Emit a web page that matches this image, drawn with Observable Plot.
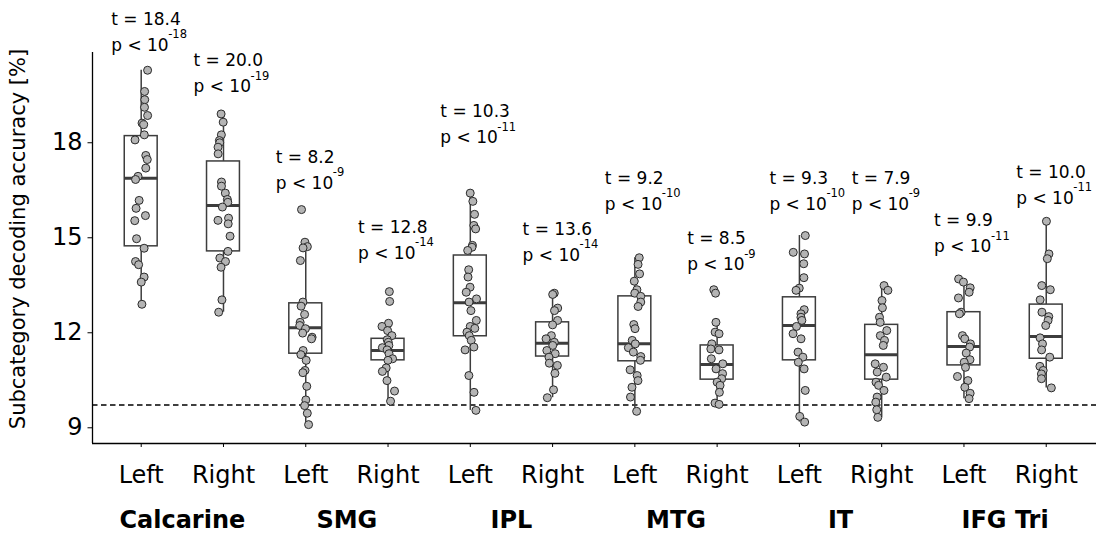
<!DOCTYPE html>
<html>
<head>
<meta charset="utf-8">
<script src="https://cdn.jsdelivr.net/npm/d3@7"></script>
<script src="https://cdn.jsdelivr.net/npm/@observablehq/plot@0.6"></script>
<style>
  html, body { margin: 0; padding: 0; background: #fff; }
  #chart svg { display: block; }
</style>
</head>
<body>
<div id="chart"></div>
<script>
// ---------- data ----------
const regions = ["Calcarine", "SMG", "IPL", "MTG", "IT", "IFG Tri"];
const hemispheres = ["Left", "Right"];
const tValues = [18.4, 20.0, 8.2, 12.8, 10.3, 13.6, 9.2, 8.5, 9.3, 7.9, 9.9, 10.0];
const pExponents = ["-18", "-19", "-9", "-14", "-11", "-14", "-10", "-9", "-10", "-9", "-11", "-11"];
const annotationY = [20.91, 19.59, 16.55, 14.34, 17.98, 14.28, 15.89, 13.97, 15.89, 15.89, 14.54, 16.08];
const chanceLevel = 9.72;

// box statistics per group (Calcarine L, Calcarine R, SMG L, SMG R, ...)
const q1 = [14.73, 14.57, 11.34, 11.13, 11.89, 11.25, 11.10, 10.52, 11.13, 10.52, 10.97, 11.18];
const median = [16.88, 16.02, 12.16, 11.44, 12.95, 11.67, 11.65, 11.00, 12.23, 11.31, 11.57, 11.88];
const q3 = [18.21, 17.41, 12.93, 11.81, 14.44, 12.33, 13.15, 11.60, 13.12, 12.25, 12.65, 12.89];
const whiskerLow = [12.90, 12.65, 9.10, 9.84, 9.55, 9.95, 9.52, 9.74, 9.18, 9.33, 9.92, 10.26];
const whiskerHigh = [20.29, 18.91, 14.86, 12.30, 16.41, 13.25, 14.37, 12.33, 15.07, 13.49, 13.70, 15.52];

// individual subjects
const calcarineLeft = [20.29, 19.62, 19.36, 19.12, 18.86, 18.62, 18.57, 18.25, 18.09, 17.60, 17.47, 17.20, 16.94, 16.84, 16.18, 15.93, 15.70, 15.54, 14.97, 14.67, 14.25, 14.15, 13.76, 13.60, 12.90];
const calcarineRight = [18.91, 18.65, 18.25, 18.07, 18.00, 17.86, 17.65, 16.76, 16.63, 16.41, 16.21, 16.12, 15.97, 15.62, 15.55, 15.44, 15.05, 14.57, 14.36, 14.25, 14.07, 13.04, 12.65];
const smgLeft = [15.89, 14.86, 14.72, 14.68, 14.28, 12.97, 12.84, 12.58, 12.33, 12.23, 12.13, 11.99, 11.86, 11.81, 11.44, 11.31, 11.13, 10.81, 10.74, 10.31, 9.88, 9.70, 9.46, 9.10];
const smgRight = [13.30, 12.99, 12.30, 12.20, 12.07, 11.91, 11.78, 11.70, 11.60, 11.53, 11.46, 11.34, 11.18, 11.13, 10.89, 10.78, 10.49, 10.16, 9.84];
const iplLeft = [16.41, 16.15, 15.74, 15.39, 15.28, 14.76, 14.70, 14.60, 13.99, 13.76, 13.44, 13.28, 13.07, 12.97, 12.70, 12.39, 12.20, 12.14, 12.02, 11.91, 11.76, 11.55, 11.46, 10.65, 10.12, 9.55];
const iplRight = [13.25, 13.21, 12.78, 12.70, 12.39, 12.25, 11.91, 11.81, 11.70, 11.60, 11.44, 11.34, 11.23, 11.04, 10.97, 10.72, 10.20, 9.95];
const mtgLeft = [14.37, 14.16, 13.86, 13.63, 13.36, 13.25, 13.15, 12.97, 12.83, 12.26, 12.13, 11.76, 11.65, 11.53, 11.39, 11.25, 11.13, 10.83, 10.65, 10.49, 10.28, 9.97, 9.52];
const mtgRight = [13.36, 13.25, 12.33, 12.02, 11.97, 11.65, 11.49, 11.46, 11.18, 11.02, 10.86, 10.71, 10.55, 10.44, 10.34, 10.12, 9.78, 9.74];
const itLeft = [15.07, 14.54, 14.49, 14.18, 13.74, 13.41, 13.34, 12.73, 12.60, 12.49, 12.39, 12.20, 11.97, 11.81, 11.39, 11.23, 11.07, 10.86, 10.18, 9.36, 9.18];
const itRight = [13.49, 13.34, 13.02, 12.79, 12.49, 12.33, 12.07, 11.91, 11.76, 11.60, 11.02, 10.91, 10.76, 10.60, 10.44, 10.34, 10.18, 9.97, 9.81, 9.57, 9.33];
const ifgLeft = [13.70, 13.60, 13.42, 13.28, 13.10, 12.65, 12.60, 11.91, 11.81, 11.65, 11.55, 11.36, 11.15, 11.07, 10.91, 10.62, 10.49, 10.28, 10.09, 9.92];
const ifgRight = [15.52, 14.49, 14.34, 13.49, 13.36, 13.04, 12.65, 12.51, 12.39, 12.23, 11.84, 11.65, 11.46, 11.23, 10.94, 10.81, 10.70, 10.55, 10.26];

const subjectValues = [calcarineLeft, calcarineRight, smgLeft, smgRight, iplLeft, iplRight,
                       mtgLeft, mtgRight, itLeft, itRight, ifgLeft, ifgRight];

// ---------- build tables ----------
const groups = d3.range(12).map(i => ({
  i,
  q1: q1[i], med: median[i], q3: q3[i], lo: whiskerLow[i], hi: whiskerHigh[i],
  t: tValues[i], exp: pExponents[i], ay: annotationY[i]
}));

const rng = d3.randomLcg(0.31);
const points = [];
subjectValues.forEach((vals, i) => {
  vals.forEach(v => points.push({ i, v, j: (rng() - 0.5) * 0.16 }));
});

const halfBox = 0.2;
const xDomain = [-0.592, 11.611];
const yDomain = [8.504, 20.85];
const boxStroke = "#3d3d3d";

const chart = Plot.plot({
  width: 1096,
  height: 533,
  marginLeft: 92,
  marginRight: 0,
  marginTop: 52,
  marginBottom: 90,
  style: { fontFamily: "'DejaVu Sans', sans-serif", background: "#fff", color: "#000", overflow: "visible" },
  x: { domain: xDomain },
  y: { domain: yDomain },
  marks: [
    Plot.ruleY([chanceLevel], { stroke: "#000", strokeWidth: 1.3, strokeDasharray: "5.5,3.5" }),
    Plot.ruleX(groups, { x: "i", y1: "lo", y2: "q1", stroke: boxStroke, strokeWidth: 1.5 }),
    Plot.ruleX(groups, { x: "i", y1: "q3", y2: "hi", stroke: boxStroke, strokeWidth: 1.5 }),
    Plot.rect(groups, { x1: d => d.i - halfBox, x2: d => d.i + halfBox, y1: "q1", y2: "q3",
                        fill: "#fff", stroke: boxStroke, strokeWidth: 1.5 }),
    Plot.ruleY(groups, { x1: d => d.i - halfBox, x2: d => d.i + halfBox, y: "med",
                         stroke: boxStroke, strokeWidth: 3 }),
    Plot.dot(points, { x: d => d.i + d.j, y: "v", r: 4, fill: "#b4b4b4", stroke: "#2a2a2a", strokeWidth: 1 }),
    // annotations
    Plot.text(groups, { x: "i", y: "ay", text: d => `t = ${d.t.toFixed(1)}`, textAnchor: "start",
                        lineAnchor: "bottom", dx: -30, dy: -26, fontSize: 17 }),
    Plot.text(groups, { x: "i", y: "ay", text: () => "p < 10", textAnchor: "start",
                        lineAnchor: "bottom", dx: -30, fontSize: 17 }),
    Plot.text(groups, { x: "i", y: "ay", text: "exp", textAnchor: "start",
                        lineAnchor: "bottom", dx: 27, dy: -12.5, fontSize: 11.5 }),
    // spines
    Plot.ruleY([yDomain[0]], { stroke: "#000", strokeWidth: 1.3 }),
    Plot.ruleX([xDomain[0]], { stroke: "#000", strokeWidth: 1.3 }),
    // axes
    Plot.axisY({ ticks: [9, 12, 15, 18], tickSize: 4.5, tickPadding: 5.5, fontSize: 24, label: null }),
    Plot.axisX({ ticks: d3.range(12), tickFormat: i => hemispheres[i % 2], tickSize: 4,
                 tickPadding: 18, fontSize: 24, label: null }),
    // region labels
    Plot.text(regions, { x: (d, k) => 2 * k + 0.5, frameAnchor: "bottom", lineAnchor: "bottom",
                         dy: 84, fontSize: 24, fontWeight: "bold" }),
    // y axis title
    Plot.text(["Subcategory decoding accuracy [%]"], { frameAnchor: "left", textAnchor: "middle",
                         dx: -74, dy: -9, rotate: -90, fontSize: 21 })
  ]
});

document.getElementById("chart").appendChild(chart);
</script>
</body>
</html>
